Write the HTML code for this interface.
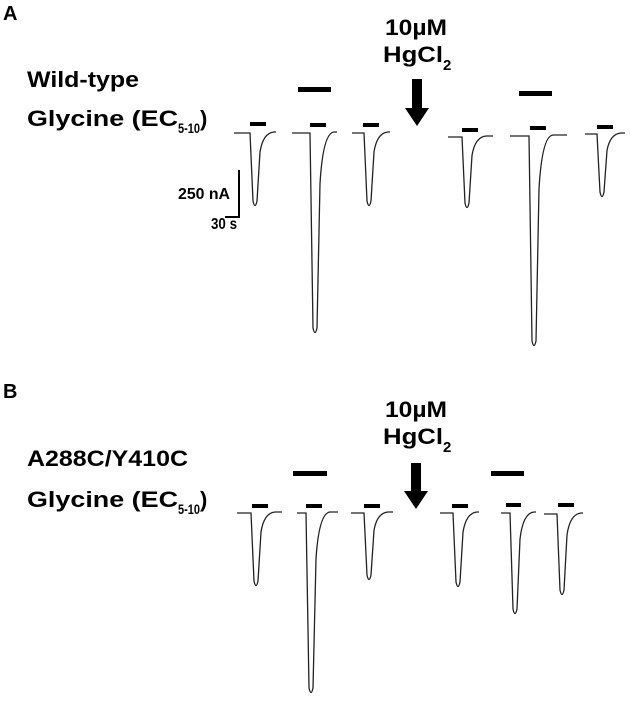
<!DOCTYPE html>
<html><head><meta charset="utf-8"><style>
body{margin:0;background:#fff;width:630px;height:701px;overflow:hidden}
svg{position:absolute;left:0;top:0}
text{font-family:"Liberation Sans",sans-serif;font-weight:bold;fill:#000}
</style></head><body>
<svg id="s" width="630" height="701" viewBox="0 0 630 701">
<text x="3" y="20" font-size="20">A</text>
<text x="385" y="35" font-size="22" textLength="62" lengthAdjust="spacingAndGlyphs">10µM</text>
<text x="383" y="62" font-size="22" textLength="60" lengthAdjust="spacingAndGlyphs">HgCl</text>
<text x="443" y="70" font-size="15">2</text>
<text x="27" y="87" font-size="22" textLength="112" lengthAdjust="spacingAndGlyphs">Wild-type</text>
<text x="27" y="126" font-size="22" textLength="151" lengthAdjust="spacingAndGlyphs">Glycine (EC</text>
<text x="178" y="133" font-size="14" textLength="22" lengthAdjust="spacingAndGlyphs">5-10</text>
<text x="200" y="126" font-size="22">)</text>
<text x="178" y="199" font-size="16" textLength="52" lengthAdjust="spacingAndGlyphs">250 nA</text>
<text x="211" y="229" font-size="16" textLength="26" lengthAdjust="spacingAndGlyphs">30 s</text>
<path d="M239 170 V217 H225" fill="none" stroke="#000" stroke-width="2"/>
<text x="3" y="398" font-size="20">B</text>
<text x="385" y="417" font-size="22" textLength="62" lengthAdjust="spacingAndGlyphs">10µM</text>
<text x="383" y="444" font-size="22" textLength="60" lengthAdjust="spacingAndGlyphs">HgCl</text>
<text x="443" y="452" font-size="15">2</text>
<text x="27" y="466" font-size="22" textLength="161" lengthAdjust="spacingAndGlyphs">A288C/Y410C</text>
<text x="27" y="507" font-size="22" textLength="151" lengthAdjust="spacingAndGlyphs">Glycine (EC</text>
<text x="178" y="514" font-size="14" textLength="22" lengthAdjust="spacingAndGlyphs">5-10</text>
<text x="200" y="507" font-size="22">)</text>
<g id="g"></g>
</svg>
<script>
var g=document.getElementById('g'),h='';
function tr(x0,x1,xd,b,bot){
 var d='M'+x0+' '+b+' L'+xd+' '+b+' L'+(xd+3)+' '+(bot-8)+' Q'+(xd+5)+' '+(bot+1)+' '+(xd+7)+' '+(bot-8)+' L'+(xd+10)+' '+(b+(bot-b)*0.25)+' Q'+(xd+13)+' '+b+' '+(xd+24)+' '+(b-1)+' L'+x1+' '+(b-1);
 h+='<path d="'+d+'" fill="none" stroke="#222" stroke-width="1.3"/>';
}
function bar(x0,x1,y,t){h+='<rect x="'+x0+'" y="'+y+'" width="'+(x1-x0)+'" height="'+(t||4)+'" fill="#000"/>';}
function arrow(x,y0,tip){h+='<polygon points="'+(x-5)+','+y0+' '+(x+5)+','+y0+' '+(x+5)+','+(tip-18)+' '+(x+12)+','+(tip-18)+' '+x+','+tip+' '+(x-12)+','+(tip-18)+' '+(x-5)+','+(tip-18)+'" fill="#000"/>';}
// A
tr(234,276,250,133,209);bar(250,266,122);
tr(292,337,310,133,336);bar(310,326,123);bar(298,331,87,5);
tr(352,390,364,133,209);bar(363,379,123);
arrow(417,79,126);
tr(448,493,462,137,211);bar(462,478,128);
tr(510,567,529,136,349);bar(530,546,126);bar(519,552,91,5);
tr(585,625,597,134,200);bar(597,613,125);
// B
tr(237,282,251,513,589);bar(252,268,504);
tr(297,338,306,513,696);bar(306,322,504);bar(293,327,471,5);
tr(351,393,364,513,583);bar(364,380,504);
arrow(416,463,509);
tr(440,479,453,513,590);bar(452,468,504);
tr(501,536,510,513,617);bar(506,521,503);bar(491,524,471,5);
tr(544,583,557,514,598);bar(558,574,503);
g.innerHTML=h;
</script>
</body></html>
